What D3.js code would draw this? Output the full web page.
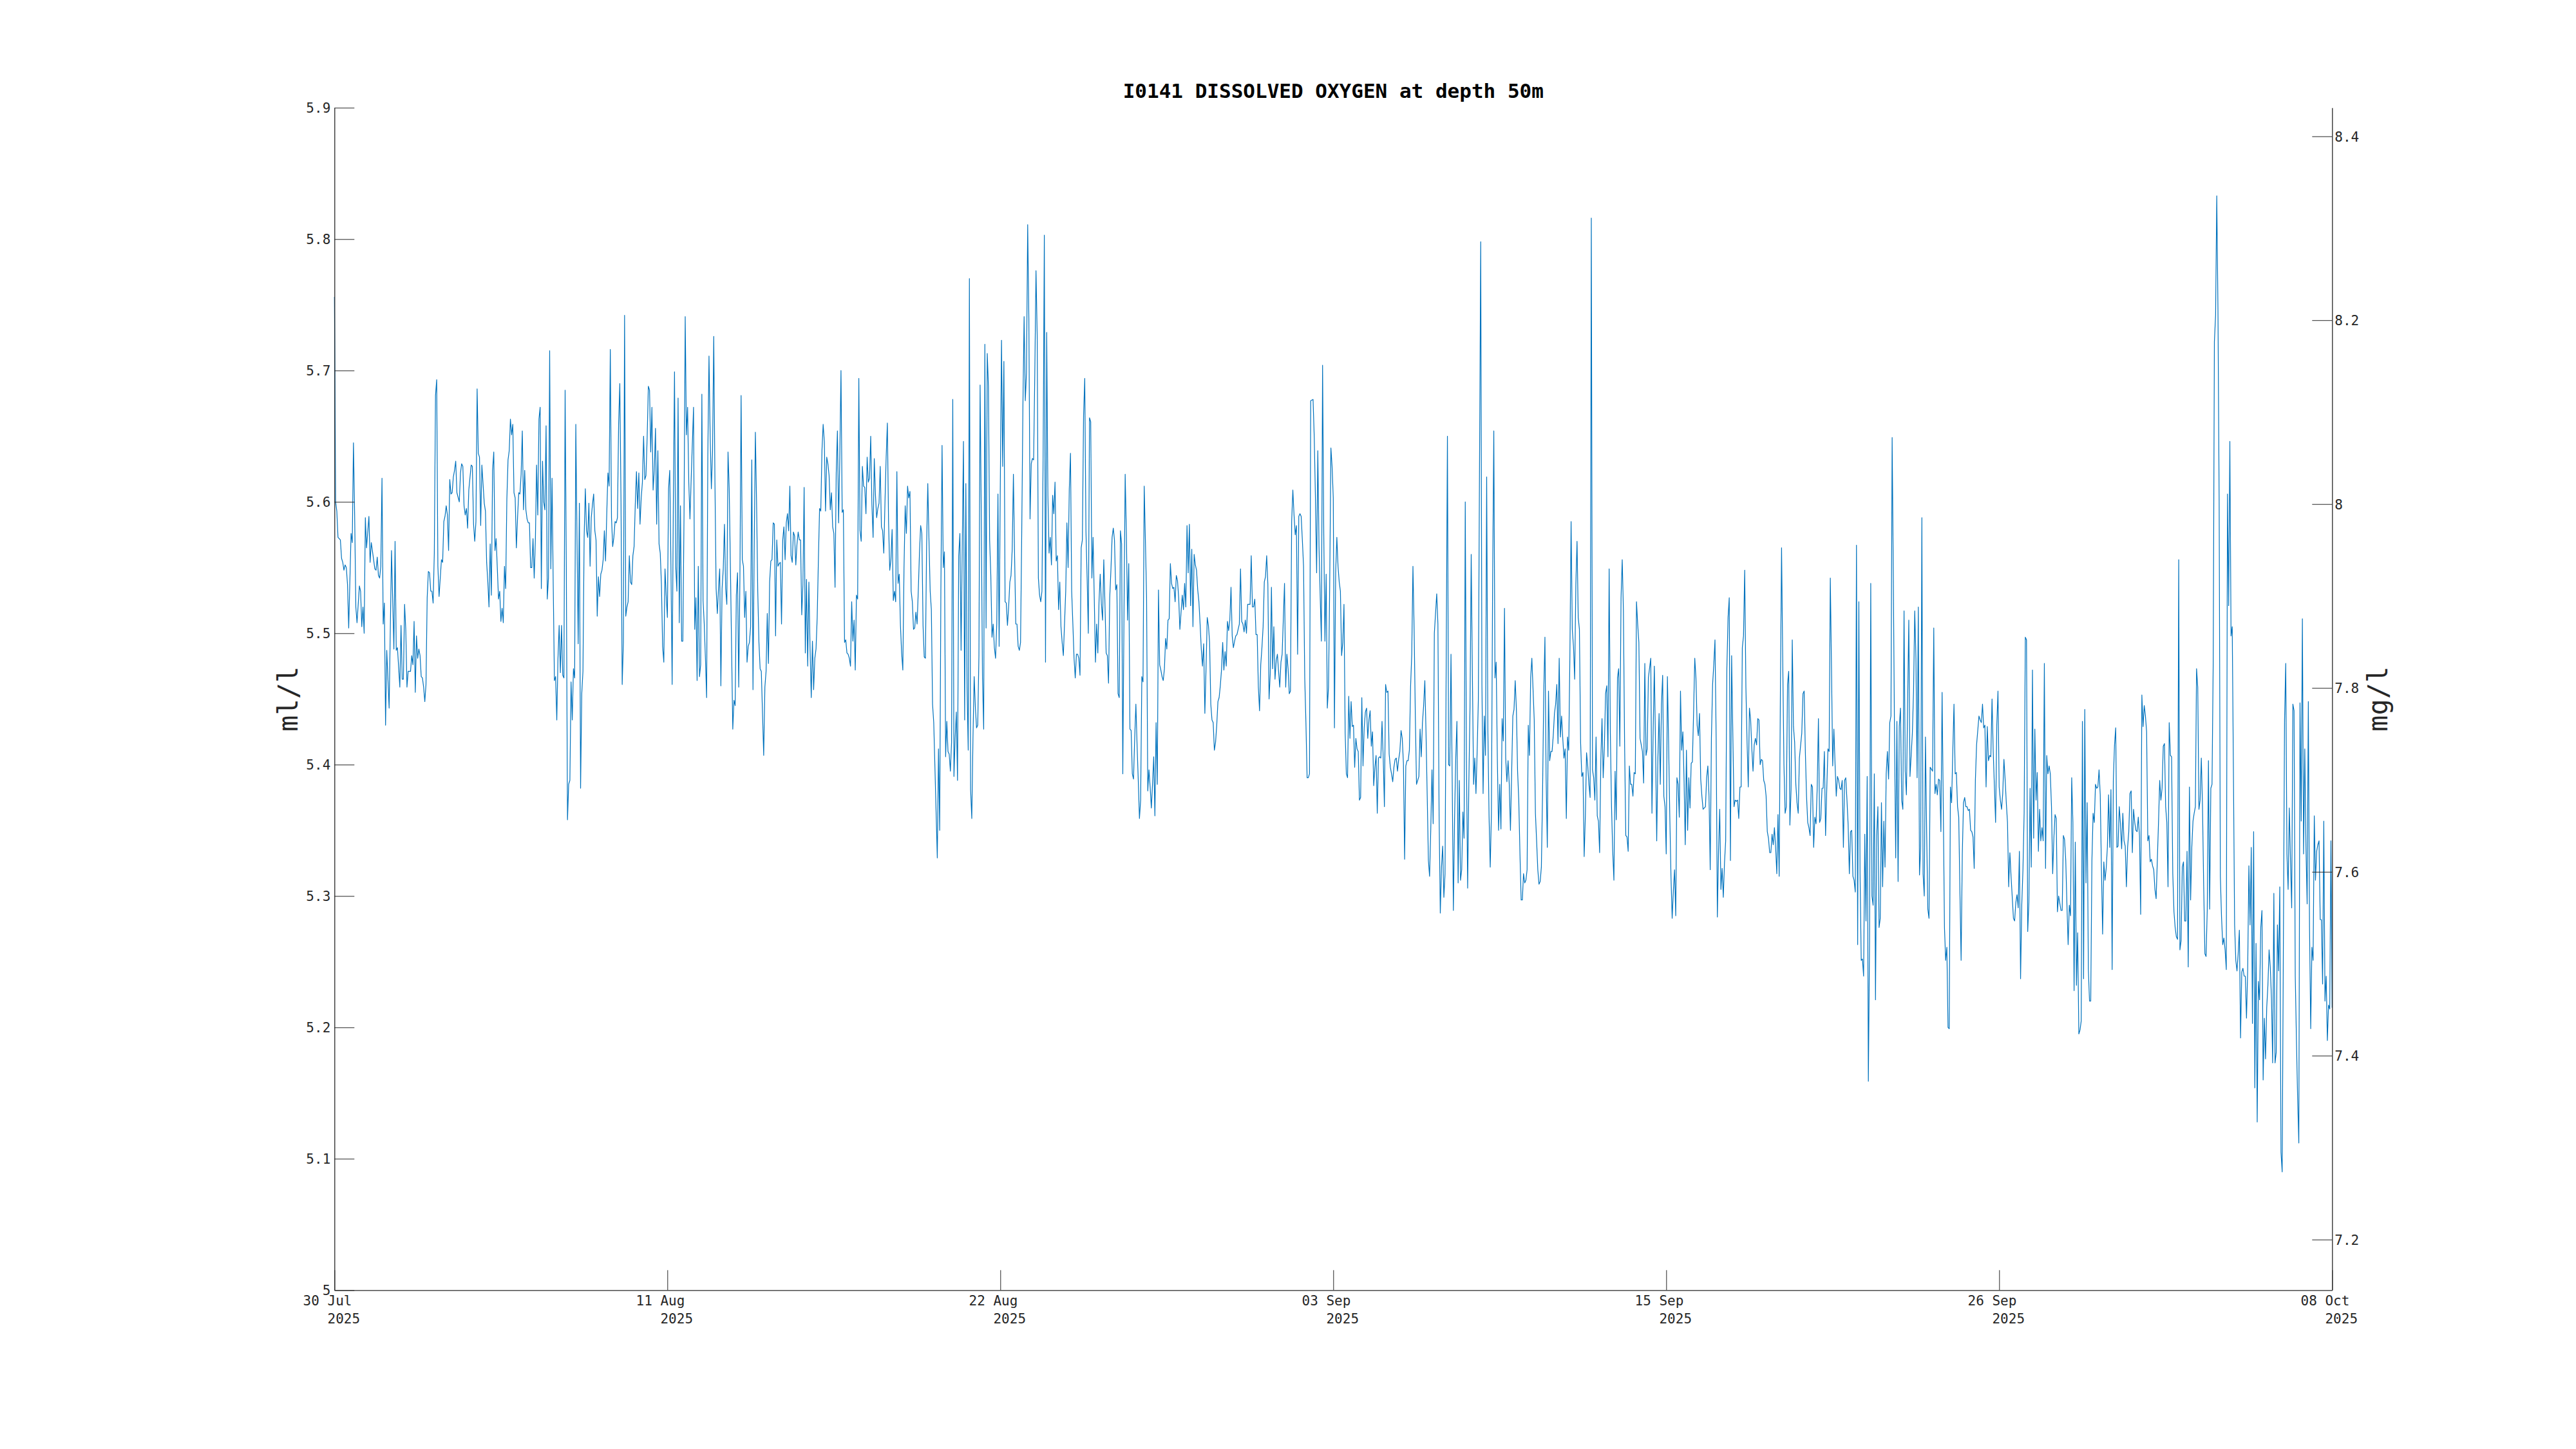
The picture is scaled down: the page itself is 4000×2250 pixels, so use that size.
<!DOCTYPE html>
<html>
<head>
<meta charset="utf-8">
<script src="https://cdn.jsdelivr.net/npm/d3@7"></script>
<style>
  html, body { margin: 0; padding: 0; background: #fff; }
  .do-chart text { font-family: "DejaVu Sans Mono", monospace; }
</style>
</head>
<body>
<div class="do-chart"></div>
<script>
// chart texts
var titleText = "I0141 DISSOLVED OXYGEN at depth 50m";
var leftLabel = "ml/l";
var rightLabel = "mg/l";

// time base: hourly samples from 30 Jul 2025 12:00 (UTC) over 70 days
var startTime = Date.UTC(2025, 6, 30, 12);
var spanHours = 1680;
var xTickCount = 7;
// hours with no reading
var missingHours = [4, 13, 20, 28, 32, 33, 45, 47, 49, 54, 63, 89, 104, 114, 125, 137, 301, 334,
  360, 506, 528, 614, 712, 798, 822, 926, 935, 1008, 1106, 1233, 1343, 1382, 1411, 1451, 1533, 1639];

// axis ticks
var leftTicks = [5, 5.1, 5.2, 5.3, 5.4, 5.5, 5.6, 5.7, 5.8, 5.9];
var rightTicks = [7.2, 7.4, 7.6, 7.8, 8, 8.2, 8.4];
var mlToMg = 1.429;

// dissolved oxygen, ml/l (30 Jul - 13 Aug)
var oxygenA = [
5.756,5.600,5.593,5.573,5.571,5.557,5.554,5.548,5.552,5.550,5.537,5.504,5.576,5.569,5.645,5.590,5.520,5.508,5.536,5.532,
5.505,5.520,5.500,5.588,5.565,5.589,5.554,5.569,5.549,5.548,5.558,5.544,5.542,5.551,5.618,5.507,5.523,5.430,5.487,5.443,
5.563,5.488,5.570,5.487,5.489,5.459,5.506,5.465,5.465,5.522,5.503,5.459,5.471,5.471,5.483,5.476,5.509,5.455,5.498,5.481,
5.488,5.483,5.467,5.466,5.459,5.448,5.461,5.527,5.547,5.546,5.532,5.532,5.523,5.561,5.681,5.693,5.551,5.528,5.556,5.554,
5.585,5.589,5.597,5.590,5.563,5.617,5.606,5.607,5.619,5.624,5.631,5.607,5.600,5.622,5.629,5.627,5.597,5.590,5.595,5.580,
5.609,5.628,5.627,5.583,5.570,5.585,5.686,5.637,5.634,5.582,5.628,5.599,5.593,5.554,5.539,5.520,5.568,5.529,5.624,5.638,
5.563,5.572,5.526,5.532,5.509,5.519,5.508,5.551,5.534,5.602,5.632,5.639,5.663,5.651,5.659,5.607,5.603,5.565,5.588,5.607,
5.606,5.621,5.654,5.594,5.624,5.594,5.587,5.584,5.584,5.550,5.550,5.572,5.542,5.571,5.628,5.590,5.663,5.672,5.534,5.631,
5.600,5.594,5.658,5.526,5.542,5.715,5.549,5.618,5.537,5.464,5.467,5.434,5.481,5.506,5.470,5.506,5.468,5.466,5.685,5.551,
5.358,5.385,5.388,5.463,5.434,5.473,5.466,5.659,5.571,5.492,5.599,5.382,5.454,5.471,5.573,5.610,5.578,5.573,5.599,5.551,
5.588,5.598,5.606,5.578,5.571,5.513,5.543,5.528,5.545,5.548,5.556,5.578,5.555,5.590,5.622,5.612,5.716,5.588,5.566,5.573,
5.585,5.584,5.588,5.659,5.690,5.600,5.461,5.493,5.742,5.513,5.520,5.524,5.559,5.539,5.537,5.559,5.566,5.598,5.623,5.595,
5.622,5.583,5.603,5.615,5.650,5.617,5.620,5.649,5.688,5.685,5.638,5.672,5.609,5.624,5.656,5.583,5.639,5.568,5.561,5.537,
5.490,5.478,5.549,5.529,5.512,5.610,5.624,5.551,5.461,5.598,5.699,5.551,5.532,5.679,5.508,5.597,5.494,5.494,5.590,5.741,
5.651,5.672,5.615,5.587,5.617,5.672,5.503,5.527,5.464,5.551,5.467,5.476,5.682,5.525,5.507,5.481,5.451,5.634,5.711,5.649,
5.610,5.639,5.726,5.615,5.534,5.515,5.534,5.549,5.460,5.534,5.549,5.583,5.534,5.522,5.638,5.610,5.551,5.427
];
// 13 Aug - 27 Aug
var oxygenB = [
5.449,5.445,5.529,5.546,5.459,5.542,5.681,5.556,5.551,5.512,5.532,5.478,5.490,5.493,5.505,5.632,5.457,5.563,5.653,5.600,
5.532,5.493,5.473,5.471,5.407,5.459,5.471,5.515,5.477,5.539,5.555,5.556,5.584,5.583,5.498,5.571,5.551,5.553,5.554,5.507,
5.571,5.581,5.556,5.584,5.591,5.578,5.612,5.559,5.554,5.577,5.574,5.552,5.568,5.577,5.571,5.571,5.514,5.537,5.611,5.485,
5.541,5.475,5.539,5.488,5.451,5.494,5.457,5.481,5.488,5.512,5.556,5.595,5.593,5.639,5.659,5.646,5.593,5.634,5.629,5.620,
5.594,5.607,5.581,5.576,5.535,5.622,5.654,5.584,5.634,5.700,5.592,5.594,5.493,5.495,5.485,5.484,5.481,5.475,5.524,5.494,
5.510,5.472,5.529,5.526,5.694,5.578,5.570,5.627,5.612,5.611,5.591,5.634,5.615,5.618,5.650,5.598,5.573,5.633,5.605,5.588,
5.595,5.599,5.627,5.581,5.578,5.561,5.600,5.634,5.660,5.585,5.548,5.556,5.579,5.525,5.532,5.524,5.623,5.538,5.545,5.506,
5.485,5.472,5.549,5.597,5.576,5.612,5.603,5.608,5.532,5.524,5.503,5.504,5.516,5.507,5.532,5.561,5.582,5.576,5.506,5.482,
5.481,5.566,5.614,5.571,5.532,5.518,5.446,5.432,5.398,5.329,5.412,5.350,5.532,5.643,5.550,5.562,5.406,5.433,5.410,5.408,
5.395,5.417,5.678,5.391,5.420,5.440,5.388,5.559,5.576,5.487,5.646,5.434,5.614,5.459,5.411,5.770,5.381,5.359,5.420,5.467,
5.444,5.428,5.430,5.483,5.689,5.588,5.466,5.427,5.720,5.504,5.713,5.688,5.571,5.544,5.497,5.507,5.489,5.481,5.507,5.606,
5.490,5.615,5.723,5.627,5.707,5.524,5.523,5.506,5.520,5.539,5.544,5.564,5.621,5.559,5.507,5.507,5.490,5.487,5.493,5.576,
5.673,5.741,5.677,5.698,5.811,5.739,5.587,5.629,5.633,5.632,5.698,5.776,5.727,5.542,5.529,5.524,5.532,5.634,5.803,5.478,
5.729,5.605,5.561,5.573,5.552,5.605,5.591,5.615,5.555,5.559,5.518,5.539,5.505,5.493,5.483,5.532,5.584,5.550,5.610,5.637,
5.532,5.507,5.481,5.466,5.484,5.484,5.481,5.468,5.565,5.571,5.666,5.694,5.578,5.542,5.500,5.664,5.661,5.542,5.573,5.527,
5.478,5.507,5.485,5.524,5.545,5.522,5.510,5.556,5.522,5.485,5.483,5.462,5.527,5.548,5.573,5.580,5.571,5.533,5.537,5.454,
5.451,5.578,5.568,5.393,5.515,5.621,5.576,5.510,5.553,5.427,5.426,5.393
];
// 27 Aug - 10 Sep
var oxygenC = [
5.389,5.420,5.446,5.415,5.388,5.359,5.373,5.467,5.463,5.612,5.571,5.527,5.380,5.396,5.383,5.367,5.385,5.406,5.361,5.432,
5.385,5.533,5.476,5.472,5.467,5.464,5.473,5.496,5.488,5.510,5.511,5.553,5.538,5.534,5.535,5.524,5.544,5.540,5.527,5.503,
5.529,5.518,5.538,5.520,5.582,5.546,5.583,5.521,5.564,5.505,5.560,5.552,5.548,5.533,5.524,5.507,5.488,5.475,5.492,5.439,
5.473,5.512,5.506,5.493,5.446,5.434,5.432,5.411,5.417,5.430,5.448,5.451,5.460,5.472,5.493,5.472,5.486,5.475,5.509,5.502,
5.510,5.535,5.498,5.489,5.494,5.498,5.499,5.503,5.507,5.549,5.509,5.507,5.501,5.510,5.500,5.522,5.522,5.522,5.559,5.520,
5.520,5.526,5.499,5.499,5.459,5.441,5.476,5.489,5.505,5.539,5.543,5.559,5.537,5.450,5.469,5.535,5.473,5.505,5.465,5.479,
5.484,5.471,5.459,5.478,5.484,
5.538,5.459,5.484,5.473,5.454,5.456,5.585,5.609,5.590,5.575,5.582,5.484,5.589,5.591,5.589,5.571,5.551,5.466,5.432,5.390,
5.390,5.393,5.677,
5.678,5.649,5.603,5.546,5.639,5.566,5.528,5.494,5.704,5.576,5.494,5.545,5.443,5.459,5.537,5.641,5.627,5.603,5.428,5.546,
5.573,5.551,5.539,5.532,5.483,5.493,5.522,5.424,5.393,5.390,5.452,5.420,5.448,5.429,5.430,5.398,5.420,5.412,5.410,5.373,
5.375,5.451,5.399,5.428,5.440,5.443,5.420,5.434,5.441,5.414,5.425,5.384,5.398,5.407,5.363,5.405,5.406,5.405,5.433,5.405,
5.368,5.461,5.455,5.456,5.408,5.398,5.393,5.387,5.398,5.404,5.405,5.395,5.404,5.410,5.426,5.420,5.401,5.328,5.399,5.403,
5.403,5.411,5.459,5.484,5.551,5.503,5.437,5.385,5.388,5.391,5.427,5.406,5.432,5.445,5.464,5.424,5.376,5.327,5.315,5.351,
5.396,5.355,5.500,
5.530,5.507,5.361,5.287,5.322,5.338,5.299,5.317,
5.650,5.400,5.399,5.484,5.390,5.289,5.359,5.405,5.433,5.310,5.388,5.312,5.320,5.364,5.344,5.600,5.403,5.306,5.385,5.444,
5.560,5.468,5.385,5.405,5.378,5.410,5.449,5.629,5.798,5.461,5.378,5.437,5.407,5.619,5.427,5.361,5.322,5.363,5.537,5.654,
5.466,5.478,5.403,5.350,5.385,5.351,5.435,5.418,5.519,5.405,5.387,5.403,5.385,5.350,5.393,5.437,5.442,5.464,5.442,5.395,
5.373,5.332,5.297,5.297,5.317,5.310,5.312,5.320,5.430,5.407,5.466,5.481
];
// 10 Sep - 24 Sep
var oxygenD = [
5.434,5.363,5.342,5.320,5.309,5.311,5.322,5.378,5.454,5.497,5.390,5.337,5.456,5.403,5.410,5.410,5.422,5.439,5.446,5.461,
5.416,5.481,5.421,5.437,5.420,5.405,5.412,5.359,5.421,5.411,5.483,5.585,5.503,5.490,5.465,5.537,5.570,5.512,5.503,5.417,
5.391,5.394,5.330,5.361,5.409,5.399,5.385,5.375,5.816,5.396,5.390,5.373,5.421,5.361,5.357,5.333,5.403,5.435,5.390,5.414,
5.454,5.460,5.406,5.549,5.424,5.368,5.334,5.312,5.395,5.358,5.466,5.473,5.414,5.527,5.556,5.517,5.415,5.346,5.345,5.334,
5.399,5.385,5.385,5.376,5.394,5.393,5.524,5.507,5.493,5.420,5.415,5.410,5.386,5.477,5.407,5.412,5.466,
5.481,5.363,5.424,5.475,5.415,5.342,5.405,5.439,5.385,5.446,5.468,5.376,5.368,5.332,5.467,5.417,5.361,5.315,5.283,5.304,
5.320,5.285,5.390,5.385,5.360,5.456,5.411,5.425,5.388,5.339,5.411,5.350,5.390,5.367,5.401,5.402,5.439,5.481,5.466,5.430,
5.422,5.439,5.389,5.376,5.366,5.367,5.368,5.390,5.399,5.376,5.320,5.420,5.461,5.476,5.495,5.420,5.284,5.334,5.366,5.305,
5.321,5.299,5.325,5.342,5.473,5.512,5.527,5.327,5.483,5.424,5.368,5.373,5.372,5.373,5.359,5.383,5.383,5.489,5.498,5.548,
5.459,5.417,5.383,5.443,5.434,5.412,5.395,5.415,5.420,5.415,5.435,5.434,5.400,5.404,5.403,5.388,5.385,5.376,5.349,5.344,
5.333,5.333,5.347,5.339,5.352,5.337,5.317,5.362,5.315,5.454,5.565,5.478,5.400,5.363,5.368,5.461,5.471,5.354,5.381,5.495,
5.429,5.417,5.385,5.371,5.363,5.405,
5.424,5.454,5.456,5.410,5.376,5.356,5.352,5.346,5.385,5.383,5.337,5.360,5.355,5.383,5.435,5.356,5.359,5.382,5.382,5.410,
5.346,5.381,5.412,5.410,5.542,5.473,5.399,5.427,5.400,5.376,5.391,5.388,5.382,5.381,5.388,5.337,5.388,5.390,5.373,5.354,
5.317,5.349,5.350,5.315,5.312,5.303,5.567,5.263,5.524,5.317,5.251,5.252,5.239,5.347,5.281,5.391,5.159,5.266,5.538,5.300,
5.293,5.393,5.221,5.346,5.368,5.276,5.283,5.371,5.307,5.357,5.322,5.393,5.410,5.389,5.432,5.437,5.649,5.542,5.420,5.329,
5.433,5.311,5.429,5.443,5.373,5.366,5.517,5.395,5.377,5.446,5.510,5.391,5.407,5.424,5.456,5.517,5.481,5.390,5.520,5.316,
5.337,5.588,5.317,5.300,5.421,5.349,5.290,5.283,5.398
];
// 24 Sep - 08 Oct
var oxygenE = [
5.395,5.504,5.378,5.385,5.377,5.389,5.388,5.349,5.455,5.368,5.276,5.251,5.261,5.200,5.199,5.383,5.371,5.410,5.446,5.393,
5.394,5.368,5.360,5.303,5.251,5.332,5.371,5.375,5.368,5.368,5.365,5.366,5.350,5.349,5.345,5.321,5.388,5.415,
5.437,5.434,5.432,5.446,5.428,5.430,5.383,5.429,5.403,5.407,5.406,5.450,5.410,5.383,5.356,5.430,5.456,5.383,5.373,5.366,
5.378,5.404,5.389,5.371,5.356,5.307,5.333,5.315,
5.283,5.281,5.295,5.301,5.291,5.334,5.237,5.293,5.320,5.363,5.497,5.495,5.273,5.295,5.382,5.322,5.472,5.344,5.427,5.373,
5.394,5.334,5.366,5.342,5.352,5.342,5.477,5.321,5.407,5.393,5.399,5.393,5.368,5.317,5.344,5.362,5.359,5.288,5.300,
5.289,5.289,5.346,5.343,5.327,5.293,5.263,5.293,5.285,5.390,5.356,5.228,5.341,5.232,5.272,5.195,5.198,5.205,5.433,5.237,
5.442,5.310,5.371,5.244,5.220,5.220,5.327,5.363,5.356,5.385,5.382,5.383,5.396,5.377,5.320,5.271,5.326,5.312,5.321,5.337,
5.377,5.337,5.381,5.244,5.388,5.415,5.428,5.337,5.338,5.368,5.355,5.336,5.363,5.342,5.338,5.307,5.337,5.349,5.378,5.380,
5.333,5.366,5.356,5.350,5.349,5.360,5.346,5.286,5.453,5.429,5.445,5.437,5.425,5.342,5.346,5.326,5.328,5.323,5.320,5.305,
5.298,
5.356,5.388,5.373,5.382,5.414,5.416,5.368,5.356,5.307,5.432,5.407,5.406,5.317,5.288,5.276,5.269,5.267,5.556,5.259,5.266,
5.322,5.326,5.281,5.281,5.334,5.246,5.383,5.297,5.337,5.357,5.363,5.368,5.473,5.459,5.366,5.373,5.405,5.368,5.307,5.256,
5.254,5.290,5.403,5.290,5.382,5.385,5.478,5.722,5.742,5.833,5.746,5.600,5.315,5.284,5.263,5.268,5.259,5.244,5.606,5.521,
5.646,5.498,5.505,5.395,5.278,5.251,5.243,5.256,5.274,5.192,5.242,5.245,5.239,5.239,5.207,5.244,5.323,5.278,5.337,5.203,
5.349,5.154,5.264,5.128,5.235,5.221,5.276,5.289,5.160,5.207,5.176,5.215,5.232,5.259,5.246,5.222,5.173,5.302,5.173,5.181,
5.278,5.243,5.307,5.105,5.090,
5.434,5.477,5.332,5.305,5.367,5.327,5.291,5.446,5.441,5.239,5.190,5.146,5.112,5.447,5.357,5.511,5.332,5.412,5.337,5.294,
5.448,5.276,5.199,5.261,5.251,5.361,5.312,5.334,5.339,5.342,5.282,5.282,5.233,5.357,5.220,5.239,5.190,5.217,5.214,5.342,
5.215
];

var oxygenMl = oxygenA.concat(oxygenB, oxygenC, oxygenD, oxygenE);

// pair every reading with its hour
var sampleHours = [];
for (var h = 0; h <= spanHours; h++) {
  if (missingHours.indexOf(h) < 0) sampleHours.push(h);
}
var series = oxygenMl.map(function (v, i) {
  return { t: new Date(startTime + sampleHours[i] * 3600e3), v: v };
});

var width = 4000, height = 2250;
var margin = { top: 167.3, right: 378.7, bottom: 246.7, left: 519.3 };
var plotW = width - margin.left - margin.right;
var plotH = height - margin.top - margin.bottom;
var axisColor = "#262626";
var tickLen = 31;
var tickFont = 21;
var charW = tickFont * 0.602;

var x = d3.scaleUtc()
  .domain([new Date(startTime), new Date(startTime + spanHours * 3600e3)])
  .range([0, plotW]);
var yLeft = d3.scaleLinear().domain([5, 5.9]).range([plotH, 0]);
var yRight = d3.scaleLinear().domain([5 * mlToMg, 5.9 * mlToMg]).range([plotH, 0]);

var xTicks = d3.range(xTickCount).map(function (i) {
  var d = x.domain();
  return new Date(+d[0] + i * (d[1] - d[0]) / (xTickCount - 1));
});

var svg = d3.select(".do-chart").append("svg")
  .attr("width", width)
  .attr("height", height)
  .attr("viewBox", "0 0 " + width + " " + height);

svg.append("rect").attr("width", width).attr("height", height).attr("fill", "#fff");

var g = svg.append("g")
  .attr("transform", "translate(" + margin.left + "," + margin.top + ")");

// data line
g.append("path")
  .datum(series)
  .attr("fill", "none")
  .attr("stroke", "#0072BD")
  .attr("stroke-width", 1.2)
  .attr("stroke-linejoin", "round")
  .attr("d", d3.line()
    .x(function (d) { return x(d.t); })
    .y(function (d) { return yLeft(d.v); }));

function styleAxis(sel) {
  sel.attr("font-family", null).attr("font-size", null);
  sel.select(".domain").attr("stroke", axisColor).attr("stroke-width", 1.3);
  sel.selectAll(".tick line").attr("stroke", axisColor).attr("stroke-width", 1);
  sel.selectAll(".tick text")
    .attr("fill", axisColor)
    .style("font-size", tickFont + "px")
    .attr("dy", null)
    .attr("y", 7.5);
}

var fmt = d3.format("~g");

g.append("g")
  .call(d3.axisLeft(yLeft).tickValues(leftTicks).tickSize(-tickLen).tickSizeOuter(0)
    .tickPadding(6).tickFormat(fmt))
  .call(styleAxis);

g.append("g")
  .attr("transform", "translate(" + plotW + ",0)")
  .call(d3.axisRight(yRight).tickValues(rightTicks).tickSize(-tickLen).tickSizeOuter(0)
    .tickPadding(4).tickFormat(fmt))
  .call(styleAxis);

var xAxis = g.append("g")
  .attr("transform", "translate(0," + plotH + ")")
  .call(d3.axisBottom(x).tickValues(xTicks).tickSize(-tickLen).tickSizeOuter(0)
    .tickFormat(""));
xAxis.select(".domain").attr("stroke", axisColor).attr("stroke-width", 1.3);
xAxis.selectAll(".tick line").attr("stroke", axisColor).attr("stroke-width", 1);

// two-line date labels
var dayFmt = d3.utcFormat("%d %b");
var yearFmt = d3.utcFormat("%Y");
var xLabels = g.append("g").attr("class", "x-labels");
xTicks.forEach(function (d) {
  var px = x(d);
  var t = xLabels.append("text")
    .attr("fill", axisColor)
    .attr("text-anchor", "start")
    .style("font-size", tickFont + "px");
  t.append("tspan")
    .attr("x", px - 4.5 - 3.5 * charW)
    .attr("y", plotH + 24)
    .text(dayFmt(d));
  t.append("tspan")
    .attr("x", px - 4.5 - 0.5 * charW)
    .attr("y", plotH + 52)
    .text(yearFmt(d));
});

// title
svg.append("text")
  .attr("x", margin.left + plotW / 2)
  .attr("y", 152)
  .attr("text-anchor", "middle")
  .attr("font-weight", "bold")
  .attr("fill", "#000")
  .style("font-size", "31px")
  .text(titleText);

// axis labels
svg.append("text")
  .attr("transform", "translate(461.7," + (margin.top + plotH / 2) + ") rotate(-90)")
  .attr("text-anchor", "middle")
  .attr("fill", axisColor)
  .style("font-size", "42px")
  .text(leftLabel);

svg.append("text")
  .attr("transform", "translate(3706.7," + (margin.top + plotH / 2) + ") rotate(-90)")
  .attr("text-anchor", "middle")
  .attr("fill", axisColor)
  .style("font-size", "42px")
  .text(rightLabel);
</script>
</body>
</html>
